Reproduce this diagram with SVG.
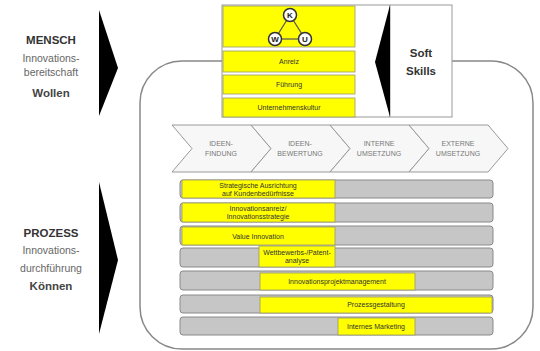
<svg xmlns="http://www.w3.org/2000/svg" width="540" height="351" viewBox="0 0 540 351">
<style>
.lbl{font-family:"Liberation Sans",Arial,sans-serif;text-anchor:middle}
.hd{font-size:11.5px;font-weight:bold;fill:#333}
.sub{font-size:10.5px;fill:#666}
.sm{font-size:7px;fill:#333}
.chev{fill:#f7f7f7;stroke:#999;stroke-width:1}
.chevt{font-size:7px;fill:#777}
.bar{fill:#c6c6c6;stroke:#8a8a8a;stroke-width:1}
.yel{fill:#ffff00;stroke:#9a9a6a;stroke-width:0.8}
.circ{fill:#fff;stroke:#333;stroke-width:1.5}
</style>
<rect width="540" height="351" fill="#fff"/>

<g id="frame">
<rect x="140" y="61" width="393" height="288" rx="42" ry="42" fill="#fff" stroke="#888" stroke-width="1.5"/>
</g>

<g id="mensch">
<polygon points="99,10 118,68 99,116" fill="#000"/>
<text class="lbl hd" x="51" y="44">MENSCH</text>
<text class="lbl sub" x="51" y="62">Innovations-</text>
<text class="lbl sub" x="51" y="76">bereitschaft</text>
<text class="lbl hd" x="51" y="97" style="fill:#444">Wollen</text>
</g>

<g id="prozess">
<polygon points="99,182 118,260 99,334" fill="#000"/>
<text class="lbl hd" x="51" y="237">PROZESS</text>
<text class="lbl sub" x="51" y="254">Innovations-</text>
<text class="lbl sub" x="51" y="272">durchführung</text>
<text class="lbl hd" x="51" y="290" style="fill:#444">Können</text>
</g>

<g id="top">
<rect x="222" y="5" width="230" height="112" fill="#fff" stroke="#999" stroke-width="1"/>
<rect x="223" y="6" width="132" height="41" class="yel"/>
<rect x="223" y="51" width="132" height="21" class="yel"/>
<rect x="223" y="75" width="132" height="19" class="yel"/>
<rect x="223" y="98" width="132" height="19" class="yel"/>
<line x1="290" y1="15" x2="275" y2="39" stroke="#555" stroke-width="1.2"/>
<line x1="290" y1="15" x2="305" y2="39" stroke="#555" stroke-width="1.2"/>
<line x1="275" y1="39" x2="305" y2="39" stroke="#555" stroke-width="1.2"/>
<circle cx="290" cy="15" r="6.5" class="circ"/>
<circle cx="275" cy="39" r="6.5" class="circ"/>
<circle cx="305" cy="39" r="6.5" class="circ"/>
<text class="lbl" x="290" y="18" font-size="8" font-weight="bold" fill="#222">K</text>
<text class="lbl" x="275" y="42" font-size="8" font-weight="bold" fill="#222">W</text>
<text class="lbl" x="305" y="42" font-size="8" font-weight="bold" fill="#222">U</text>
<text class="lbl sm" x="289" y="64">Anreiz</text>
<text class="lbl sm" x="289" y="87">Führung</text>
<text class="lbl sm" x="289" y="110">Unternehmenskultur</text>
<line x1="390" y1="5" x2="390" y2="117" stroke="#999" stroke-width="1"/>
<polygon points="390,5 375,62 390,117" fill="#000"/>
<text class="lbl hd" x="421" y="57" style="fill:#333">Soft</text>
<text class="lbl hd" x="421" y="75" style="fill:#333">Skills</text>
</g>

<g id="phases">
<path class="chev" d="M172,125 L251,125 L271,148.5 L251,172 L172,172 L192,148.5 Z"/>
<path class="chev" d="M251,125 L330,125 L350,148.5 L330,172 L251,172 L271,148.5 Z"/>
<path class="chev" d="M330,125 L409,125 L429,148.5 L409,172 L330,172 L350,148.5 Z"/>
<path class="chev" d="M409,125 L488,125 L508,148.5 L488,172 L409,172 L429,148.5 Z"/>
<text class="lbl chevt" x="221" y="146">IDEEN-</text>
<text class="lbl chevt" x="221" y="156">FINDUNG</text>
<text class="lbl chevt" x="300" y="146">IDEEN-</text>
<text class="lbl chevt" x="300" y="156">BEWERTUNG</text>
<text class="lbl chevt" x="379" y="146">INTERNE</text>
<text class="lbl chevt" x="379" y="156">UMSETZUNG</text>
<text class="lbl chevt" x="458" y="146">EXTERNE</text>
<text class="lbl chevt" x="458" y="156">UMSETZUNG</text>
</g>

<g id="rows">
<rect x="180" y="180" width="313" height="18" rx="3" class="bar"/>
<rect x="180" y="203" width="313" height="19" rx="3" class="bar"/>
<rect x="180" y="226" width="313" height="19" rx="3" class="bar"/>
<rect x="180" y="248" width="313" height="19" rx="3" class="bar"/>
<rect x="180" y="271" width="313" height="19" rx="3" class="bar"/>
<rect x="180" y="295" width="313" height="18" rx="3" class="bar"/>
<rect x="180" y="317" width="313" height="18" rx="3" class="bar"/>

<rect x="182" y="180" width="153" height="18" class="yel"/>
<text class="lbl sm" x="258" y="188">Strategische Ausrichtung</text>
<text class="lbl sm" x="258" y="196">auf Kundenbedürfnisse</text>

<rect x="182" y="203" width="153" height="19" class="yel"/>
<text class="lbl sm" x="258" y="211">Innovationsanreiz/</text>
<text class="lbl sm" x="258" y="219">Innovationsstrategie</text>

<rect x="182" y="227" width="153" height="18" class="yel"/>
<text class="lbl sm" x="258" y="239">Value Innovation</text>

<rect x="259" y="246" width="76" height="21" class="yel"/>
<text class="lbl sm" x="297" y="255">Wettbewerbs-/Patent-</text>
<text class="lbl sm" x="297" y="263">analyse</text>

<rect x="260" y="273" width="155" height="17" class="yel"/>
<text class="lbl sm" x="337" y="284">Innovationsprojektmanagement</text>

<rect x="260" y="297" width="232" height="16" class="yel"/>
<text class="lbl sm" x="376" y="307">Prozessgestaltung</text>

<rect x="338" y="318" width="77" height="17" class="yel"/>
<text class="lbl sm" x="376" y="329">Internes Marketing</text>
</g>
</svg>
